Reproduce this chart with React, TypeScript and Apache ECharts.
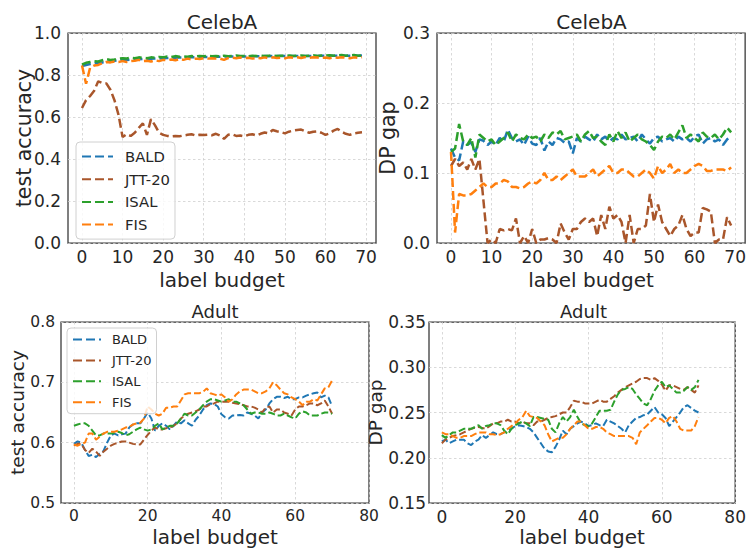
import React, { useEffect, useRef } from "react";
import * as echarts from "echarts";

const seriesNames = ["BALD", "JTT-20", "ISAL", "FIS"];
const seriesColors = ["#1f77b4", "#a9562b", "#2ca02c", "#ff7f0e"];

const xTicksCeleb = [0, 10, 20, 30, 40, 50, 60, 70];
const xTicksAdult = [0, 20, 40, 60, 80];

// CelebA test accuracy (label budget 0..69)
const celebAccBALD = [0.843, 0.848, 0.852, 0.856, 0.858, 0.860, 0.862, 0.866, 0.868, 0.870, 0.870, 0.872, 0.873, 0.874, 0.875, 0.876, 0.876, 0.877, 0.878, 0.879, 0.880, 0.881, 0.882, 0.882, 0.883, 0.884, 0.884, 0.885, 0.885, 0.886, 0.886, 0.886, 0.887, 0.887, 0.887, 0.888, 0.888, 0.888, 0.888, 0.889, 0.888, 0.889, 0.889, 0.889, 0.889, 0.890, 0.889, 0.890, 0.890, 0.890, 0.890, 0.890, 0.891, 0.890, 0.891, 0.891, 0.891, 0.891, 0.891, 0.892, 0.891, 0.892, 0.892, 0.892, 0.892, 0.892, 0.892, 0.893, 0.892, 0.893];
const celebAccJTT = [0.643, 0.680, 0.700, 0.725, 0.770, 0.762, 0.760, 0.730, 0.680, 0.610, 0.505, 0.518, 0.510, 0.525, 0.548, 0.570, 0.515, 0.590, 0.560, 0.525, 0.515, 0.510, 0.508, 0.510, 0.508, 0.512, 0.515, 0.518, 0.512, 0.515, 0.514, 0.516, 0.513, 0.520, 0.512, 0.496, 0.515, 0.518, 0.510, 0.512, 0.508, 0.515, 0.518, 0.512, 0.520, 0.526, 0.522, 0.538, 0.532, 0.528, 0.522, 0.530, 0.535, 0.538, 0.540, 0.532, 0.525, 0.530, 0.532, 0.525, 0.515, 0.522, 0.535, 0.543, 0.530, 0.520, 0.515, 0.522, 0.525, 0.527];
const celebAccISAL = [0.850, 0.858, 0.862, 0.866, 0.864, 0.870, 0.876, 0.872, 0.874, 0.878, 0.880, 0.879, 0.882, 0.880, 0.884, 0.882, 0.880, 0.884, 0.882, 0.886, 0.884, 0.888, 0.886, 0.890, 0.887, 0.889, 0.887, 0.890, 0.888, 0.891, 0.889, 0.892, 0.889, 0.891, 0.889, 0.892, 0.889, 0.890, 0.893, 0.890, 0.891, 0.889, 0.892, 0.890, 0.893, 0.890, 0.892, 0.893, 0.890, 0.892, 0.891, 0.893, 0.890, 0.892, 0.893, 0.891, 0.892, 0.894, 0.891, 0.893, 0.892, 0.894, 0.892, 0.893, 0.895, 0.892, 0.893, 0.895, 0.892, 0.893];
const celebAccFIS = [0.845, 0.758, 0.835, 0.845, 0.848, 0.856, 0.862, 0.860, 0.864, 0.862, 0.866, 0.862, 0.866, 0.868, 0.872, 0.866, 0.868, 0.864, 0.870, 0.866, 0.872, 0.870, 0.874, 0.870, 0.876, 0.872, 0.878, 0.874, 0.878, 0.876, 0.880, 0.878, 0.880, 0.878, 0.878, 0.872, 0.880, 0.882, 0.880, 0.883, 0.880, 0.882, 0.878, 0.882, 0.880, 0.884, 0.880, 0.884, 0.881, 0.883, 0.880, 0.884, 0.882, 0.884, 0.881, 0.885, 0.882, 0.884, 0.883, 0.881, 0.883, 0.880, 0.884, 0.882, 0.885, 0.883, 0.880, 0.884, 0.882, 0.885];

// CelebA DP gap (label budget 0..69)
const celebDpBALD = [0.135, 0.122, 0.118, 0.145, 0.140, 0.144, 0.130, 0.148, 0.146, 0.140, 0.145, 0.140, 0.150, 0.145, 0.162, 0.150, 0.145, 0.148, 0.140, 0.152, 0.142, 0.140, 0.150, 0.132, 0.145, 0.140, 0.150, 0.148, 0.143, 0.145, 0.128, 0.150, 0.145, 0.152, 0.148, 0.145, 0.155, 0.148, 0.152, 0.145, 0.150, 0.148, 0.155, 0.148, 0.150, 0.152, 0.145, 0.155, 0.148, 0.142, 0.150, 0.152, 0.145, 0.148, 0.150, 0.145, 0.152, 0.148, 0.150, 0.145, 0.152, 0.155, 0.142, 0.148, 0.150, 0.145, 0.148, 0.140, 0.148, 0.152];
const celebDpJTT = [0.110, 0.120, 0.110, 0.115, 0.105, 0.120, 0.105, 0.120, 0.060, 0.000, 0.005, 0.000, 0.020, 0.018, 0.020, 0.018, 0.035, 0.000, 0.010, 0.000, 0.020, 0.000, 0.005, 0.005, 0.007, 0.005, 0.000, 0.028, 0.015, 0.005, 0.020, 0.020, 0.030, 0.035, 0.030, 0.035, 0.010, 0.040, 0.020, 0.052, 0.035, 0.040, 0.030, 0.000, 0.040, 0.000, 0.020, 0.020, 0.025, 0.070, 0.030, 0.055, 0.030, 0.020, 0.010, 0.020, 0.025, 0.040, 0.020, 0.010, 0.015, 0.015, 0.050, 0.048, 0.045, 0.000, 0.005, 0.005, 0.037, 0.025];
const celebDpISAL = [0.130, 0.135, 0.170, 0.145, 0.140, 0.150, 0.122, 0.155, 0.150, 0.145, 0.148, 0.140, 0.145, 0.150, 0.158, 0.145, 0.155, 0.150, 0.148, 0.155, 0.150, 0.152, 0.145, 0.155, 0.150, 0.158, 0.155, 0.160, 0.148, 0.150, 0.152, 0.155, 0.145, 0.155, 0.160, 0.150, 0.152, 0.145, 0.140, 0.155, 0.145, 0.160, 0.150, 0.158, 0.145, 0.150, 0.155, 0.148, 0.145, 0.140, 0.133, 0.145, 0.152, 0.150, 0.155, 0.148, 0.158, 0.168, 0.150, 0.155, 0.150, 0.145, 0.158, 0.152, 0.150, 0.155, 0.148, 0.155, 0.165, 0.158];
const celebDpFIS = [0.130, 0.015, 0.070, 0.068, 0.068, 0.070, 0.075, 0.080, 0.085, 0.080, 0.080, 0.085, 0.085, 0.090, 0.088, 0.080, 0.080, 0.078, 0.080, 0.085, 0.088, 0.085, 0.090, 0.100, 0.090, 0.090, 0.095, 0.090, 0.095, 0.100, 0.105, 0.095, 0.095, 0.095, 0.100, 0.105, 0.095, 0.100, 0.105, 0.110, 0.100, 0.100, 0.105, 0.105, 0.100, 0.095, 0.095, 0.100, 0.105, 0.100, 0.092, 0.110, 0.100, 0.105, 0.113, 0.100, 0.105, 0.100, 0.100, 0.105, 0.110, 0.113, 0.110, 0.103, 0.103, 0.105, 0.105, 0.105, 0.103, 0.108];

// Adult test accuracy (label budget 0..70)
const adultAccBALD = [0.598, 0.602, 0.600, 0.588, 0.578, 0.580, 0.576, 0.582, 0.586, 0.600, 0.612, 0.615, 0.612, 0.614, 0.615, 0.625, 0.630, 0.632, 0.632, 0.640, 0.650, 0.640, 0.620, 0.628, 0.632, 0.628, 0.622, 0.628, 0.635, 0.632, 0.637, 0.632, 0.628, 0.638, 0.645, 0.655, 0.662, 0.665, 0.664, 0.660, 0.647, 0.642, 0.640, 0.645, 0.645, 0.646, 0.645, 0.650, 0.648, 0.645, 0.640, 0.650, 0.655, 0.665, 0.672, 0.676, 0.676, 0.674, 0.676, 0.672, 0.672, 0.675, 0.675, 0.678, 0.680, 0.682, 0.683, 0.675, 0.678, 0.675, 0.660];
const adultAccJTT = [0.595, 0.598, 0.598, 0.588, 0.583, 0.590, 0.585, 0.578, 0.585, 0.590, 0.595, 0.598, 0.600, 0.602, 0.602, 0.600, 0.598, 0.597, 0.597, 0.605, 0.613, 0.620, 0.625, 0.622, 0.622, 0.624, 0.625, 0.628, 0.632, 0.640, 0.645, 0.648, 0.650, 0.652, 0.655, 0.660, 0.660, 0.664, 0.665, 0.668, 0.668, 0.668, 0.668, 0.666, 0.665, 0.664, 0.662, 0.660, 0.660, 0.658, 0.655, 0.650, 0.658, 0.660, 0.650, 0.655, 0.655, 0.650, 0.648, 0.645, 0.655, 0.660, 0.660, 0.662, 0.665, 0.665, 0.662, 0.665, 0.670, 0.660, 0.648];
const adultAccISAL = [0.628, 0.630, 0.632, 0.632, 0.628, 0.620, 0.612, 0.612, 0.615, 0.615, 0.615, 0.616, 0.618, 0.616, 0.612, 0.614, 0.618, 0.622, 0.625, 0.622, 0.620, 0.622, 0.628, 0.632, 0.622, 0.625, 0.628, 0.628, 0.632, 0.640, 0.648, 0.645, 0.645, 0.650, 0.655, 0.662, 0.668, 0.672, 0.672, 0.670, 0.668, 0.670, 0.672, 0.668, 0.668, 0.665, 0.662, 0.655, 0.648, 0.650, 0.650, 0.648, 0.648, 0.650, 0.648, 0.645, 0.645, 0.648, 0.645, 0.642, 0.640, 0.648, 0.652, 0.650, 0.645, 0.645, 0.645, 0.648, 0.650, 0.650, 0.648];
const adultAccFIS = [0.597, 0.595, 0.598, 0.600, 0.615, 0.615, 0.605, 0.610, 0.615, 0.618, 0.618, 0.618, 0.620, 0.622, 0.625, 0.626, 0.630, 0.632, 0.633, 0.640, 0.660, 0.655, 0.648, 0.645, 0.648, 0.658, 0.658, 0.660, 0.660, 0.670, 0.680, 0.682, 0.682, 0.682, 0.682, 0.684, 0.690, 0.682, 0.680, 0.678, 0.680, 0.675, 0.668, 0.672, 0.680, 0.685, 0.688, 0.688, 0.688, 0.685, 0.682, 0.682, 0.685, 0.690, 0.700, 0.695, 0.688, 0.682, 0.680, 0.675, 0.672, 0.668, 0.662, 0.668, 0.668, 0.672, 0.670, 0.680, 0.690, 0.692, 0.703];

// Adult DP gap (label budget 0..70)
const adultDpBALD = [0.218, 0.220, 0.216, 0.218, 0.220, 0.220, 0.220, 0.216, 0.214, 0.218, 0.220, 0.225, 0.222, 0.225, 0.228, 0.226, 0.226, 0.228, 0.230, 0.232, 0.235, 0.236, 0.235, 0.234, 0.232, 0.228, 0.222, 0.216, 0.210, 0.207, 0.206, 0.212, 0.220, 0.230, 0.226, 0.232, 0.235, 0.238, 0.240, 0.238, 0.235, 0.236, 0.238, 0.236, 0.235, 0.242, 0.240, 0.238, 0.235, 0.232, 0.228, 0.236, 0.240, 0.244, 0.245, 0.247, 0.248, 0.252, 0.256, 0.250, 0.248, 0.244, 0.235, 0.240, 0.245, 0.250, 0.256, 0.258, 0.255, 0.252, 0.250];
const adultDpJTT = [0.216, 0.220, 0.222, 0.224, 0.225, 0.226, 0.228, 0.230, 0.232, 0.233, 0.234, 0.233, 0.232, 0.235, 0.238, 0.238, 0.240, 0.240, 0.242, 0.240, 0.240, 0.238, 0.240, 0.238, 0.238, 0.236, 0.240, 0.240, 0.242, 0.244, 0.245, 0.246, 0.248, 0.250, 0.250, 0.256, 0.263, 0.262, 0.262, 0.260, 0.260, 0.260, 0.262, 0.264, 0.262, 0.262, 0.265, 0.268, 0.272, 0.275, 0.278, 0.280, 0.282, 0.284, 0.287, 0.288, 0.288, 0.286, 0.288, 0.285, 0.281, 0.274, 0.280, 0.280, 0.278, 0.276, 0.275, 0.278, 0.275, 0.272, 0.280];
const adultDpISAL = [0.225, 0.222, 0.225, 0.228, 0.228, 0.230, 0.232, 0.232, 0.232, 0.234, 0.236, 0.232, 0.235, 0.236, 0.238, 0.238, 0.236, 0.230, 0.226, 0.232, 0.236, 0.238, 0.240, 0.238, 0.235, 0.245, 0.245, 0.244, 0.243, 0.242, 0.232, 0.228, 0.238, 0.245, 0.240, 0.245, 0.253, 0.245, 0.238, 0.236, 0.235, 0.238, 0.245, 0.252, 0.252, 0.252, 0.253, 0.262, 0.270, 0.275, 0.276, 0.278, 0.276, 0.270, 0.265, 0.260, 0.258, 0.265, 0.274, 0.280, 0.284, 0.278, 0.280, 0.276, 0.272, 0.272, 0.274, 0.278, 0.275, 0.278, 0.286];
const adultDpFIS = [0.228, 0.226, 0.226, 0.224, 0.222, 0.222, 0.224, 0.224, 0.224, 0.226, 0.228, 0.228, 0.228, 0.226, 0.226, 0.225, 0.226, 0.228, 0.232, 0.235, 0.238, 0.242, 0.245, 0.252, 0.246, 0.245, 0.244, 0.240, 0.236, 0.226, 0.218, 0.220, 0.222, 0.222, 0.226, 0.232, 0.236, 0.240, 0.240, 0.236, 0.232, 0.232, 0.234, 0.234, 0.232, 0.228, 0.226, 0.224, 0.224, 0.224, 0.224, 0.224, 0.222, 0.215, 0.228, 0.232, 0.236, 0.240, 0.244, 0.244, 0.242, 0.238, 0.244, 0.246, 0.240, 0.232, 0.230, 0.230, 0.230, 0.235, 0.245];

const panels = [
  { title: "CelebA", series: [celebAccBALD, celebAccJTT, celebAccISAL, celebAccFIS] },
  { title: "CelebA", series: [celebDpBALD, celebDpJTT, celebDpISAL, celebDpFIS] },
  { title: "Adult", series: [adultAccBALD, adultAccJTT, adultAccISAL, adultAccFIS] },
  { title: "Adult", series: [adultDpBALD, adultDpJTT, adultDpISAL, adultDpFIS] },
];

const FONT = "DejaVu Sans";
const TXT = "#262626";

const grids = [
  { left: 68, top: 33, width: 308, height: 210 },
  { left: 437, top: 33, width: 309, height: 210 },
  { left: 61, top: 322, width: 308, height: 187 },
  { left: 429, top: 322, width: 309, height: 187 },
];

const layout = [
  { xmin: -3.45, xmax: 72.45, ticks: xTicksCeleb, ymin: 0, ymax: 1, yint: 0.2, ydec: 1, yname: "test accuracy", tickFs: 17, nameFs: 20.5, xNameFs: 20, titleFs: 20, yGap: 34, xGap: 27, yMargin: 7, lw: 2.5, titleTop: 12 },
  { xmin: -3.45, xmax: 72.45, ticks: xTicksCeleb, ymin: 0, ymax: 0.3, yint: 0.1, ydec: 1, yname: "DP gap", tickFs: 17, nameFs: 20.5, xNameFs: 20, titleFs: 20, yGap: 39, xGap: 27, yMargin: 7, lw: 2.5, titleTop: 12 },
  { xmin: -3.5, xmax: 80, ticks: xTicksAdult, ymin: 0.5, ymax: 0.8, yint: 0.1, ydec: 1, yname: "test accuracy", tickFs: 15.5, nameFs: 18.5, xNameFs: 20, titleFs: 18, yGap: 34, xGap: 24, yMargin: 6, lw: 2, titleTop: 302 },
  { xmin: -3.5, xmax: 80, ticks: xTicksAdult, ymin: 0.15, ymax: 0.35, yint: 0.05, ydec: 2, yname: "DP gap", tickFs: 17, nameFs: 18.5, xNameFs: 20, titleFs: 18, yGap: 44, xGap: 24, yMargin: 3, lw: 2, titleTop: 302 },
];

export default function App() {
  const ref = useRef<HTMLDivElement>(null);
  useEffect(() => {
    if (!ref.current) return;
    const chart = echarts.init(ref.current, undefined, { renderer: "svg" });
    const splitStyle = { show: true, lineStyle: { color: "#cfcfcf", width: 0.8, type: [2.5, 2.5] } };

    const option: any = {
      animation: false,
      backgroundColor: "#ffffff",
      title: panels.map((p, i) => ({
        text: p.title,
        left: grids[i].left + grids[i].width / 2,
        top: layout[i].titleTop,
        textAlign: "center",
        padding: 0,
        textStyle: { fontFamily: FONT, fontSize: layout[i].titleFs, fontWeight: "normal", color: TXT },
      })),
      grid: grids.map((g) => ({ ...g, show: true, borderColor: "#333333", borderWidth: 1.25, backgroundColor: "transparent" })),
      xAxis: layout.map((l, i) => ({
        type: "value",
        gridIndex: i,
        min: l.xmin,
        max: l.xmax,
        name: "label budget",
        nameLocation: "middle",
        nameGap: l.xGap,
        nameMoveOverlap: false,
        nameTextStyle: { fontFamily: FONT, fontSize: l.xNameFs, color: TXT, verticalAlign: "top" },
        axisLine: { show: false },
        axisTick: { show: false, customValues: l.ticks },
        axisLabel: { customValues: l.ticks, fontFamily: FONT, fontSize: l.tickFs, color: TXT, margin: 5 },
        splitLine: splitStyle,
      })),
      yAxis: layout.map((l, i) => ({
        type: "value",
        gridIndex: i,
        min: l.ymin,
        max: l.ymax,
        interval: l.yint,
        name: l.yname,
        nameLocation: "middle",
        nameGap: l.yGap,
        nameMoveOverlap: false,
        nameTextStyle: { fontFamily: FONT, fontSize: l.nameFs, color: TXT },
        axisLine: { show: false },
        axisTick: { show: false },
        axisLabel: {
          fontFamily: FONT,
          fontSize: l.tickFs,
          color: TXT,
          margin: l.yMargin,
          formatter: (v: number) => v.toFixed(l.ydec),
        },
        splitLine: splitStyle,
      })),
      legend: [
        {
          data: seriesNames,
          orient: "vertical",
          left: 76,
          top: 142,
          padding: [7, 5, 7, 5],
          itemWidth: 31,
          itemHeight: 14,
          itemGap: 7.7,
          backgroundColor: "rgba(255,255,255,0.8)",
          borderColor: "#d0d0d0",
          borderWidth: 1,
          borderRadius: 4,
          itemStyle: { opacity: 0 },
          textStyle: { fontFamily: FONT, fontSize: 14.8, color: TXT, padding: [0, 0, 0, 7] },
        },
        {
          data: seriesNames,
          orient: "vertical",
          left: 67,
          top: 328,
          padding: [5, 5, 5, 5],
          itemWidth: 28,
          itemHeight: 12,
          itemGap: 7.9,
          backgroundColor: "rgba(255,255,255,0.8)",
          borderColor: "#d0d0d0",
          borderWidth: 1,
          borderRadius: 4,
          itemStyle: { opacity: 0 },
          lineStyle: { width: 2 },
          textStyle: { fontFamily: FONT, fontSize: 13, color: TXT, padding: [0, 0, 0, 6] },
        },
      ],
      series: panels.flatMap((p, i) =>
        p.series.map((vals, k) => ({
          type: "line",
          name: seriesNames[k],
          xAxisIndex: i,
          yAxisIndex: i,
          data: vals.map((v, j) => [j, v]),
          symbol: "none",
          clip: true,
          color: seriesColors[k],
          lineStyle: {
            color: seriesColors[k],
            width: layout[i].lw,
            type: layout[i].lw > 2.2 ? [9, 4] : [7, 3],
          },
        }))
      ),
    };
    chart.setOption(option);
    return () => chart.dispose();
  }, []);
  return (
    <div
      ref={ref}
      style={{ position: "fixed", left: 0, top: 0, width: 749, height: 548, background: "#fff" }}
    />
  );
}
